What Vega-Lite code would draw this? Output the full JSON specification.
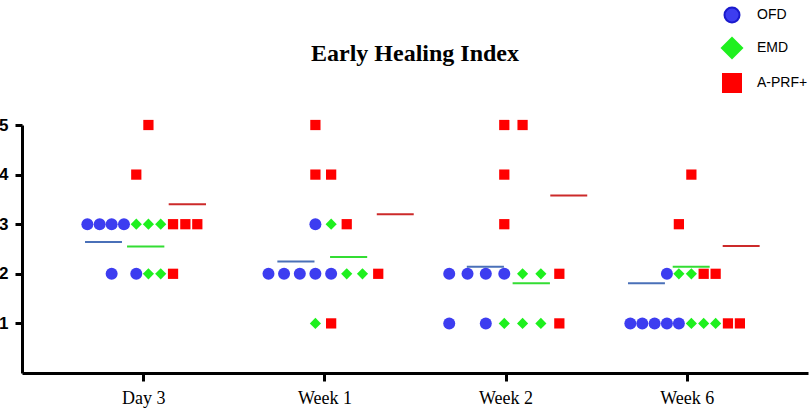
{
  "$schema": "https://vega.github.io/schema/vega-lite/v6.json",
  "width": 786,
  "height": 248,
  "autosize": {"type": "none"},
  "padding": {"left": 22, "top": 125, "right": 2, "bottom": 40},
  "background": "white",
  "title": {
    "text": "Early Healing Index",
    "font": "Liberation Serif",
    "fontSize": 24,
    "fontWeight": "bold",
    "color": "black",
    "anchor": "middle",
    "frame": "group",
    "offset": -62
  },
  "datasets": {
    "scores": [
      {"time": "Day 3", "series": "OFD", "pos": 0.691, "score": 3},
      {"time": "Day 3", "series": "OFD", "pos": 0.759, "score": 3},
      {"time": "Day 3", "series": "OFD", "pos": 0.825, "score": 3},
      {"time": "Day 3", "series": "OFD", "pos": 0.893, "score": 3},
      {"time": "Day 3", "series": "OFD", "pos": 0.825, "score": 2},
      {"time": "Day 3", "series": "OFD", "pos": 0.961, "score": 2},
      {"time": "Day 3", "series": "EMD", "pos": 0.961, "score": 3},
      {"time": "Day 3", "series": "EMD", "pos": 1.028, "score": 3},
      {"time": "Day 3", "series": "EMD", "pos": 1.096, "score": 3},
      {"time": "Day 3", "series": "EMD", "pos": 1.028, "score": 2},
      {"time": "Day 3", "series": "EMD", "pos": 1.096, "score": 2},
      {"time": "Day 3", "series": "A-PRF+", "pos": 1.028, "score": 5},
      {"time": "Day 3", "series": "A-PRF+", "pos": 0.961, "score": 4},
      {"time": "Day 3", "series": "A-PRF+", "pos": 1.164, "score": 3},
      {"time": "Day 3", "series": "A-PRF+", "pos": 1.232, "score": 3},
      {"time": "Day 3", "series": "A-PRF+", "pos": 1.298, "score": 3},
      {"time": "Day 3", "series": "A-PRF+", "pos": 1.164, "score": 2},
      {"time": "Week 1", "series": "OFD", "pos": 1.950, "score": 3},
      {"time": "Week 1", "series": "OFD", "pos": 1.691, "score": 2},
      {"time": "Week 1", "series": "OFD", "pos": 1.777, "score": 2},
      {"time": "Week 1", "series": "OFD", "pos": 1.864, "score": 2},
      {"time": "Week 1", "series": "OFD", "pos": 1.950, "score": 2},
      {"time": "Week 1", "series": "OFD", "pos": 2.037, "score": 2},
      {"time": "Week 1", "series": "EMD", "pos": 2.037, "score": 3},
      {"time": "Week 1", "series": "EMD", "pos": 2.123, "score": 2},
      {"time": "Week 1", "series": "EMD", "pos": 2.210, "score": 2},
      {"time": "Week 1", "series": "EMD", "pos": 1.950, "score": 1},
      {"time": "Week 1", "series": "A-PRF+", "pos": 1.950, "score": 5},
      {"time": "Week 1", "series": "A-PRF+", "pos": 1.950, "score": 4},
      {"time": "Week 1", "series": "A-PRF+", "pos": 2.037, "score": 4},
      {"time": "Week 1", "series": "A-PRF+", "pos": 2.123, "score": 3},
      {"time": "Week 1", "series": "A-PRF+", "pos": 2.297, "score": 2},
      {"time": "Week 1", "series": "A-PRF+", "pos": 2.037, "score": 1},
      {"time": "Week 2", "series": "OFD", "pos": 2.689, "score": 2},
      {"time": "Week 2", "series": "OFD", "pos": 2.790, "score": 2},
      {"time": "Week 2", "series": "OFD", "pos": 2.891, "score": 2},
      {"time": "Week 2", "series": "OFD", "pos": 2.993, "score": 2},
      {"time": "Week 2", "series": "OFD", "pos": 2.689, "score": 1},
      {"time": "Week 2", "series": "OFD", "pos": 2.891, "score": 1},
      {"time": "Week 2", "series": "EMD", "pos": 3.094, "score": 2},
      {"time": "Week 2", "series": "EMD", "pos": 3.195, "score": 2},
      {"time": "Week 2", "series": "EMD", "pos": 2.993, "score": 1},
      {"time": "Week 2", "series": "EMD", "pos": 3.094, "score": 1},
      {"time": "Week 2", "series": "EMD", "pos": 3.195, "score": 1},
      {"time": "Week 2", "series": "A-PRF+", "pos": 2.993, "score": 5},
      {"time": "Week 2", "series": "A-PRF+", "pos": 3.094, "score": 5},
      {"time": "Week 2", "series": "A-PRF+", "pos": 2.993, "score": 4},
      {"time": "Week 2", "series": "A-PRF+", "pos": 2.993, "score": 3},
      {"time": "Week 2", "series": "A-PRF+", "pos": 3.297, "score": 2},
      {"time": "Week 2", "series": "A-PRF+", "pos": 3.297, "score": 1},
      {"time": "Week 6", "series": "OFD", "pos": 3.891, "score": 2},
      {"time": "Week 6", "series": "OFD", "pos": 3.689, "score": 1},
      {"time": "Week 6", "series": "OFD", "pos": 3.755, "score": 1},
      {"time": "Week 6", "series": "OFD", "pos": 3.823, "score": 1},
      {"time": "Week 6", "series": "OFD", "pos": 3.891, "score": 1},
      {"time": "Week 6", "series": "OFD", "pos": 3.957, "score": 1},
      {"time": "Week 6", "series": "EMD", "pos": 3.957, "score": 2},
      {"time": "Week 6", "series": "EMD", "pos": 4.026, "score": 2},
      {"time": "Week 6", "series": "EMD", "pos": 4.026, "score": 1},
      {"time": "Week 6", "series": "EMD", "pos": 4.094, "score": 1},
      {"time": "Week 6", "series": "EMD", "pos": 4.160, "score": 1},
      {"time": "Week 6", "series": "A-PRF+", "pos": 4.026, "score": 4},
      {"time": "Week 6", "series": "A-PRF+", "pos": 3.957, "score": 3},
      {"time": "Week 6", "series": "A-PRF+", "pos": 4.094, "score": 2},
      {"time": "Week 6", "series": "A-PRF+", "pos": 4.160, "score": 2},
      {"time": "Week 6", "series": "A-PRF+", "pos": 4.228, "score": 1},
      {"time": "Week 6", "series": "A-PRF+", "pos": 4.294, "score": 1}
    ],
    "means": [
      {"time": "Day 3", "series": "OFD", "start": 0.678, "end": 0.882, "mean": 2.64},
      {"time": "Day 3", "series": "EMD", "start": 0.910, "end": 1.116, "mean": 2.55},
      {"time": "Day 3", "series": "A-PRF+", "start": 1.140, "end": 1.346, "mean": 3.40},
      {"time": "Week 1", "series": "OFD", "start": 1.740, "end": 1.945, "mean": 2.25},
      {"time": "Week 1", "series": "EMD", "start": 2.031, "end": 2.236, "mean": 2.34},
      {"time": "Week 1", "series": "A-PRF+", "start": 2.289, "end": 2.493, "mean": 3.20},
      {"time": "Week 2", "series": "OFD", "start": 2.786, "end": 2.991, "mean": 2.14},
      {"time": "Week 2", "series": "EMD", "start": 3.039, "end": 3.245, "mean": 1.81},
      {"time": "Week 2", "series": "A-PRF+", "start": 3.247, "end": 3.451, "mean": 3.58},
      {"time": "Week 6", "series": "OFD", "start": 3.676, "end": 3.880, "mean": 1.81},
      {"time": "Week 6", "series": "EMD", "start": 3.923, "end": 4.127, "mean": 2.14},
      {"time": "Week 6", "series": "A-PRF+", "start": 4.199, "end": 4.403, "mean": 2.56}
    ]
  },
  "layer": [
    {
      "data": {"name": "means"},
      "mark": {"type": "rule", "strokeWidth": 2},
      "encoding": {
        "x": {"field": "start", "type": "quantitative"},
        "x2": {"field": "end"},
        "y": {"field": "mean", "type": "quantitative"},
        "color": {
          "field": "series",
          "type": "nominal",
          "scale": {"domain": ["OFD", "EMD", "A-PRF+"], "range": ["#4a70b8", "#33dd33", "#cc2a2a"]},
          "legend": null
        }
      }
    },
    {
      "data": {"name": "scores"},
      "mark": {"type": "point", "filled": true, "opacity": 1},
      "encoding": {
        "x": {
          "field": "pos",
          "type": "quantitative",
          "scale": {"domain": [0.33, 4.67], "nice": false, "zero": false},
          "axis": {
            "title": null,
            "values": [1, 2, 3, 4],
            "labelExpr": "['Day 3', 'Week 1', 'Week 2', 'Week 6'][datum.value - 1]",
            "grid": false,
            "domainColor": "black",
            "domainWidth": 3,
            "tickColor": "black",
            "tickWidth": 3,
            "tickSize": 8,
            "labelFont": "Liberation Serif",
            "labelFontSize": 18,
            "labelColor": "black",
            "labelPadding": 8
          }
        },
        "y": {
          "field": "score",
          "type": "quantitative",
          "scale": {"domain": [0, 5], "nice": false},
          "axis": {
            "title": null,
            "values": [1, 2, 3, 4, 5],
            "grid": false,
            "domainColor": "black",
            "domainWidth": 3,
            "tickColor": "black",
            "tickWidth": 3,
            "tickSize": 7,
            "labelFont": "Liberation Sans",
            "labelFontSize": 17,
            "labelFontWeight": "bold",
            "labelColor": "black",
            "labelPadding": 7
          }
        },
        "color": {
          "field": "series",
          "type": "nominal",
          "scale": {"domain": ["OFD", "EMD", "A-PRF+"], "range": ["#3d3df0", "#1ef01e", "#ff0000"]},
          "legend": {
            "title": null,
            "orient": "none",
            "legendX": 699,
            "legendY": -121,
            "symbolSize": 400,
            "rowPadding": 5,
            "labelFont": "Liberation Sans",
            "labelFontSize": 14,
            "labelColor": "black",
            "labelOffset": 14,
            "symbolOpacity": 1,
            "encode": {
              "symbols": {
                "update": {
                  "shape": {"signal": "datum.value === 'OFD' ? 'circle' : datum.value === 'EMD' ? 'diamond' : 'square'"},
                  "size": {"signal": "datum.value === 'OFD' ? 225 : datum.value === 'EMD' ? 530 : 400"},
                  "stroke": {"signal": "datum.value === 'OFD' ? '#1a1acc' : 'transparent'"},
                  "strokeWidth": {"value": 2}
                }
              }
            }
          }
        },
        "shape": {
          "field": "series",
          "type": "nominal",
          "scale": {"domain": ["OFD", "EMD", "A-PRF+"], "range": ["circle", "diamond", "square"]},
          "legend": null
        },
        "size": {
          "field": "series",
          "type": "nominal",
          "scale": {"domain": ["OFD", "EMD", "A-PRF+"], "range": [144, 105, 120]},
          "legend": null
        }
      }
    }
  ],
  "resolve": {"scale": {"color": "independent"}},
  "config": {"view": {"stroke": null}}
}
